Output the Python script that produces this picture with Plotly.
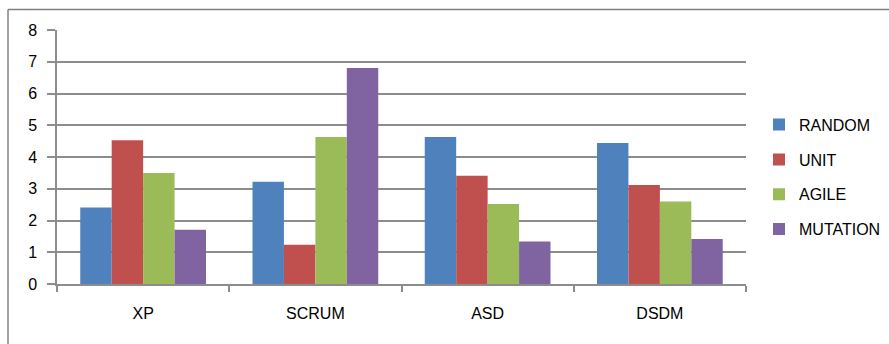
import plotly.graph_objects as go

categories = ["XP", "SCRUM", "ASD", "DSDM"]
series_names = ["RANDOM", "UNIT", "AGILE", "MUTATION"]
random_vals = [2.41, 3.22, 4.63, 4.44]
unit_vals = [4.53, 1.24, 3.41, 3.12]
agile_vals = [3.50, 4.63, 2.52, 2.60]
mutation_vals = [1.71, 6.80, 1.34, 1.42]
y_ticks = [0, 1, 2, 3, 4, 5, 6, 7, 8]

colors = ["#4F81BD", "#C0504D", "#9BBB59", "#8064A2"]
values = [random_vals, unit_vals, agile_vals, mutation_vals]

fig = go.Figure()
for name, vals, col in zip(series_names, values, colors):
    fig.add_trace(go.Bar(x=categories, y=vals, name=name, marker_color=col,
                         marker_line_width=0, legendgroup=name))

W, H = 889, 344
l, r, t, b = 57, 143, 29.5, 60
pw = W - l - r
ph = H - t - b

grid = "#8C8C8C"
font = dict(family="Liberation Sans, Arial, sans-serif", size=16, color="#000000")

fig.update_layout(
    width=W, height=H,
    margin=dict(l=l, r=r, t=t, b=b, autoexpand=False),
    paper_bgcolor="white", plot_bgcolor="white",
    barmode="group", bargap=0.27, bargroupgap=0,
    font=font,
    showlegend=True,
    legend=dict(x=(759 - l) / pw, xanchor="left", y=(H - b - 177) / ph, yanchor="middle",
                traceorder="grouped", tracegroupgap=11, font=dict(size=16),
                itemwidth=30, itemsizing="constant", bgcolor="rgba(0,0,0,0)"),
    xaxis=dict(showline=True, linecolor=grid, linewidth=1.5, ticks="outside",
               tickson="boundaries", ticklen=6, tickcolor=grid, tickwidth=1.5,
               showgrid=False, ticklabelstandoff=14, range=[-0.5, 3.5]),
    yaxis=dict(range=[0, 8], tickvals=y_ticks, showline=True, linecolor=grid, linewidth=1.5,
               ticks="outside", ticklen=8, tickcolor=grid, tickwidth=1.5,
               showgrid=True, gridcolor=grid, gridwidth=1.5, zeroline=False,
               ticklabelstandoff=7),
)

# outer chart border (left and top edges visible)
bx = (8 - l) / pw
by = (H - b - 9) / ph
fig.add_shape(type="line", xref="paper", yref="paper", x0=bx, x1=bx, y0=-0.5, y1=by,
              line=dict(color="#808080", width=1.5))
fig.add_shape(type="line", xref="paper", yref="paper", x0=bx, x1=1.5, y0=by, y1=by,
              line=dict(color="#808080", width=1.5))

fig.write_html("out.html")
